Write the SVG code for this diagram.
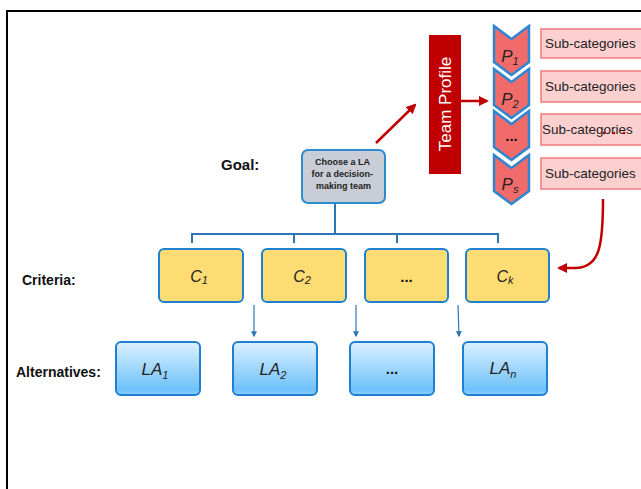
<svg xmlns="http://www.w3.org/2000/svg" width="641" height="489" viewBox="0 0 641 489">
<defs>
<linearGradient id="laGrad" x1="0" y1="0" x2="0" y2="1">
<stop offset="0" stop-color="#dcf0fe"/>
<stop offset="0.55" stop-color="#99d4fc"/>
<stop offset="0.9" stop-color="#6ec1fb"/>
<stop offset="1" stop-color="#8ccffc"/>
</linearGradient>
<marker id="redHead" viewBox="0 0 10 10" refX="8" refY="5" markerWidth="4" markerHeight="4" orient="auto">
<path d="M0,0 L10,5 L0,10 z" fill="#c00000"/>
</marker>
<marker id="blueHead" viewBox="0 0 10 10" refX="8" refY="5" markerWidth="5" markerHeight="5" orient="auto">
<path d="M0,0 L10,5 L0,10 z" fill="#2e75b6"/>
</marker>
</defs>
<style>
.lbl{font-family:"Liberation Sans",Arial,sans-serif;font-weight:bold;font-size:14px;fill:#111}
.crit rect{fill:#fddc73;stroke:#1f7fd0;stroke-width:2}
.alt rect{fill:url(#laGrad);stroke:#1f7fd0;stroke-width:2}
.it{font-family:"Liberation Sans",Arial,sans-serif;font-style:italic;font-size:17px;fill:#222;text-anchor:middle}
.dots{font-style:normal;font-weight:bold;font-size:15px;fill:#111}
.sub{font-size:11px}
.chev{fill:#f26b6b;stroke:#2e86d0;stroke-width:2.5;stroke-linejoin:miter}
.sc rect{fill:#fdd0d0;stroke:#f07a7a;stroke-width:1.5}
.sc text{font-family:"Liberation Sans",Arial,sans-serif;font-size:13.5px;fill:#222}
.red{stroke:#c00000;stroke-width:2.5;fill:none}
.blue{stroke:#2e75b6;stroke-width:2;fill:none}
.thin{stroke:#2e75b6;stroke-width:1.2;fill:none}
</style>
<rect width="641" height="489" fill="#fff"/>
<path d="M7,489 L7,11 L641,11" fill="none" stroke="#000" stroke-width="2"/>

<text class="lbl" x="221" y="170" style="font-size:15px">Goal:</text>
<text class="lbl" x="22" y="285">Criteria:</text>
<text class="lbl" x="16" y="377">Alternatives:</text>

<g id="connectors">
<path class="red" d="M376,143 L415,105" marker-end="url(#redHead)"/>
<path class="red" d="M461,101 L487,101" marker-end="url(#redHead)"/>
<path class="red" d="M603,199 C603,245 600,268 575,268 L559,268" marker-end="url(#redHead)"/>
<path class="blue" d="M335,204 L335,234 M192,243 L192,234 L498,234 L498,243 M294,234 L294,243 M397,234 L397,243"/>
<path class="thin" d="M254,305 L254,336" marker-end="url(#blueHead)"/>
<path class="thin" d="M356,305 L356,336" marker-end="url(#blueHead)"/>
<path class="thin" d="M458,305 L459,336" marker-end="url(#blueHead)"/>
</g>

<g id="goal">
<rect x="302" y="150" width="83" height="53" rx="6" fill="#c8cdd6" stroke="#2e8bd0" stroke-width="2"/>
<text font-family="'Liberation Sans',Arial,sans-serif" font-weight="bold" font-size="9" fill="#222" text-anchor="middle">
<tspan x="343.5" y="165">Choose a LA</tspan>
<tspan x="343.5" y="177">for a decision-</tspan>
<tspan x="343.5" y="189">making team</tspan>
</text>
</g>

<g id="team-profile">
<rect x="429" y="35" width="32" height="139" fill="#c00000"/>
<text transform="translate(451,104) rotate(-90)" text-anchor="middle" font-family="'Liberation Sans',Arial,sans-serif" font-size="17" fill="#fff">Team Profile</text>
</g>

<g id="p1">
<path class="chev" d="M494,26 L511.5,39 L529,26 L529,62 L511.5,75 L494,62 Z"/>
<text class="it" x="510" y="62">P<tspan class="sub" dy="3">1</tspan></text>
</g>
<g id="p2">
<path class="chev" d="M494,69 L511.5,82 L529,69 L529,105 L511.5,118 L494,105 Z"/>
<text class="it" x="510" y="105">P<tspan class="sub" dy="3">2</tspan></text>
</g>
<g id="p-dots">
<path class="chev" d="M494,111 L511.5,124 L529,111 L529,147 L511.5,160 L494,147 Z"/>
<text class="it dots" x="511.5" y="141">...</text>
</g>
<g id="ps">
<path class="chev" d="M494,155 L511.5,168 L529,155 L529,191 L511.5,204 L494,191 Z"/>
<text class="it" x="510" y="190">P<tspan class="sub" dy="3">s</tspan></text>
</g>

<g id="sub1" class="sc"><rect x="541" y="29" width="104" height="29"/><text x="545" y="48">Sub-categories</text></g>
<g id="sub2" class="sc"><rect x="541" y="71" width="104" height="31"/><text x="545" y="91">Sub-categories</text></g>
<g id="sub3" class="sc"><rect x="541" y="114" width="104" height="31"/><text x="542" y="134">Sub-categories</text>
<circle cx="604" cy="133" r="1.3" fill="#c00000"/><circle cx="614" cy="133" r="1.3" fill="#c00000"/><circle cx="624" cy="133" r="1.3" fill="#c00000"/></g>
<g id="sub4" class="sc"><rect x="541" y="158" width="104" height="31"/><text x="545" y="178">Sub-categories</text></g>

<g id="c1" class="crit"><rect x="159" y="249" width="84" height="53" rx="5"/><text class="it" x="199" y="282" style="font-size:16px">C<tspan class="sub" dy="2">1</tspan></text></g>
<g id="c2" class="crit"><rect x="262" y="249" width="84" height="53" rx="5"/><text class="it" x="302" y="282" style="font-size:16px">C<tspan class="sub" dy="2">2</tspan></text></g>
<g id="c-dots" class="crit"><rect x="365" y="249" width="83" height="53" rx="5"/><text class="it dots" x="406.5" y="282">...</text></g>
<g id="ck" class="crit"><rect x="466" y="249" width="83" height="53" rx="5"/><text class="it" x="505" y="282" style="font-size:16px">C<tspan class="sub" dy="2">k</tspan></text></g>

<g id="la1" class="alt"><rect x="116" y="342" width="84" height="53" rx="5"/><text class="it" x="155" y="375">LA<tspan class="sub" dy="4">1</tspan></text></g>
<g id="la2" class="alt"><rect x="233" y="342" width="84" height="53" rx="5"/><text class="it" x="273" y="375">LA<tspan class="sub" dy="4">2</tspan></text></g>
<g id="la-dots" class="alt"><rect x="350" y="342" width="84" height="53" rx="5"/><text class="it dots" x="392" y="374">...</text></g>
<g id="lan" class="alt"><rect x="463" y="342" width="84" height="53" rx="5"/><text class="it" x="503" y="374">LA<tspan class="sub" dy="4">n</tspan></text></g>
</svg>
